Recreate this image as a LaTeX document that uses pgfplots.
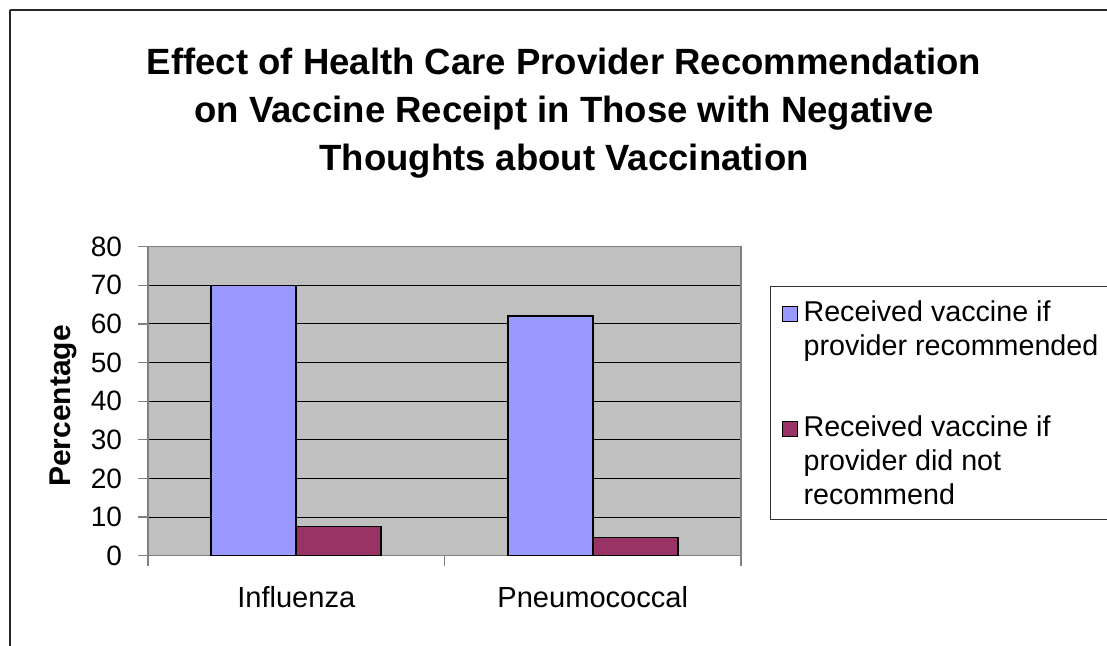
\documentclass[border=0pt]{standalone}
\usepackage{pgfplots}
\pgfplotsset{compat=1.18}
\usepackage{fontspec}
\setmainfont{Liberation Sans}
\definecolor{barblue}{HTML}{9999FF}
\definecolor{barred}{HTML}{993366}
\definecolor{plotgray}{HTML}{C0C0C0}
\definecolor{axisgray}{HTML}{808080}
\newcommand{\lstrut}{\rule{0pt}{20.125pt}}
\begin{document}
\begin{tikzpicture}[x=0.75pt,y=0.75pt]
\useasboundingbox (0,0) rectangle (1107,646);
\begin{scope}
\clip (0,0) rectangle (1107,646);
\fill[white] (0,0) rectangle (1107,646);
\draw[line width=1.2pt,black!85] (9.7,635.7) -- (1200,635.7);
\draw[line width=1.2pt,black!85] (9.7,635.7) -- (9.7,-50);
% title
\node[anchor=base,font=\fontsize{27.4}{36}\selectfont\bfseries] at (564,646-75) {Effect of Health Care Provider Recommendation};
\node[anchor=base,font=\fontsize{27.4}{36}\selectfont\bfseries] at (564,646-122.7) {on Vaccine Receipt in Those with Negative};
\node[anchor=base,font=\fontsize{27.4}{36}\selectfont\bfseries] at (564,646-170.7) {Thoughts about Vaccination};
\node[rotate=90,anchor=base,font=\fontsize{22.5}{27}\selectfont\bfseries] at (70,646-406) {Percentage};
\begin{axis}[
  at={(111pt,67.725pt)}, anchor=south west,
  scale only axis, width=444.75pt, height=231.75pt,
  xmin=-0.5, xmax=1.5, ymin=0, ymax=80,
  ytick={0,10,...,80},
  ymajorgrids,
  major grid style={black, line width=0.75pt},
  axis background/.style={fill=plotgray},
  axis line style={axisgray, line width=1pt},
  tick style={axisgray, line width=1pt},
  tick align=outside,
  tick pos=left,
  major tick length=7.5pt,
  xtick={-0.5,0.5,1.5},
  xticklabels={},
  extra x ticks={0,1},
  extra x tick labels={Influenza,Pneumococcal},
  extra x tick style={major tick length=0pt, grid=none,
     xticklabel style={yshift=-19.5pt}},
  ticklabel style={font=\fontsize{21.8}{25}\selectfont},
  yticklabel style={xshift=-8.5pt, font=\fontsize{21}{25}\selectfont},
  /pgf/number format/assume math mode=true,
  ybar, bar width=0.2867,
  legend style={at={(rel axis cs:1.0497,0.874)}, anchor=north west,
     draw=black!80, line width=0.75pt, fill=white,
     font=\fontsize{21.5}{25.5}\selectfont,
     row sep=0pt,
     cells={anchor=base west, inner ysep=0pt},
     inner xsep=8pt, inner ysep=7.375pt},
  sqlegend/.style={legend image code/.code={\draw[##1,line width=0.75pt] (0pt,0pt) rectangle (11.25pt,11.25pt); \path (13.5pt,0pt);}},
]
\addplot[fill=barblue, draw=black, line width=1.2pt, bar shift=-0.14335, sqlegend]
  coordinates {(0,70) (1,62.1)};
\addlegendentry{\rule{0pt}{16.85pt}Received vaccine if}
\addlegendimage{empty legend}
\addlegendentry{\lstrut provider recommended}
\addlegendimage{empty legend}
\addlegendentry{\rule{0pt}{29.875pt}}
\addplot[fill=barred, draw=black, line width=1.2pt, bar shift=0.14335, sqlegend]
  coordinates {(0,7.6) (1,4.7)};
\addlegendentry{\lstrut Received vaccine if}
\addlegendimage{empty legend}
\addlegendentry{\lstrut provider did not}
\addlegendimage{empty legend}
\addlegendentry{\lstrut recommend}
\end{axis}
\end{scope}
\end{tikzpicture}
\end{document}
